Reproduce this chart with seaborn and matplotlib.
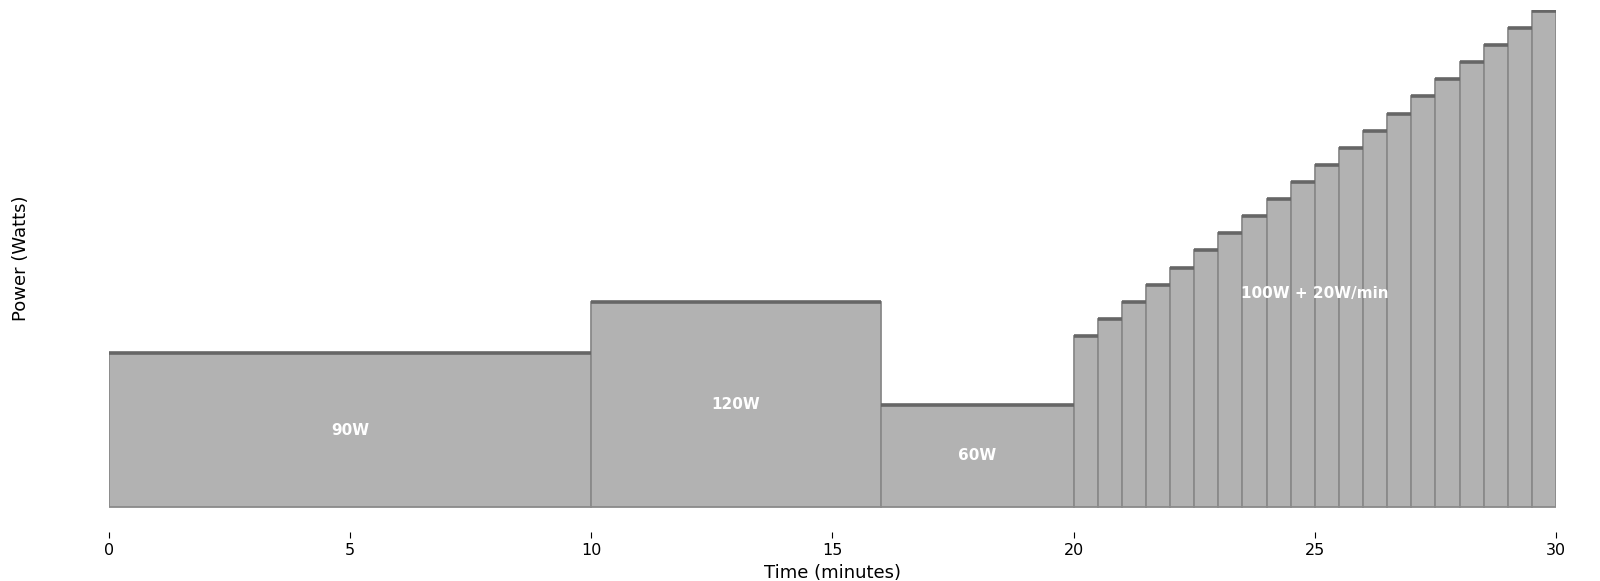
import numpy as np
import pandas as pd
import seaborn as sns
import matplotlib.pyplot as plt

# interval workout: start time (min), length (min), power (W)
start = [0, 10, 16,
         20, 20.5, 21, 21.5, 22, 22.5, 23, 23.5, 24, 24.5,
         25, 25.5, 26, 26.5, 27, 27.5, 28, 28.5, 29, 29.5]
length = [10, 6, 4] + [0.5] * 20
power = [90, 120, 60,
         100, 110, 120, 130, 140, 150, 160, 170, 180, 190,
         200, 210, 220, 230, 240, 250, 260, 270, 280, 290]

labels = ["90W", "120W", "60W", "100W + 20W/min"]
label_x = [5, 13, 18, 25]
label_y = [45, 60, 30, 125]

df = pd.DataFrame({"start": start, "length": length, "power": power})
df["end"] = df["start"] + df["length"]
df["mid"] = df["start"] + df["length"] / 2
edges = list(df["start"]) + [df["end"].iloc[-1]]

sns.set_style("white")
plt.rcParams["text.color"] = "black"
plt.rcParams["axes.labelcolor"] = "black"
plt.rcParams["xtick.color"] = "black"

fig = plt.figure(figsize=(16, 5.81), dpi=100)
ax = fig.add_axes([0.068, 0.0843, 0.9045, 0.8985])

# variable-width bars: histogram weighted by power
sns.histplot(x=df["mid"], weights=df["power"], bins=edges, stat="count",
             color="#b2b2b2", alpha=1, edgecolor="#8a8a8a", linewidth=1.3, ax=ax)

# darker top edge on each block
ax.hlines(df["power"], df["start"], df["end"], color="#666666", linewidth=2.6)

for txt, x, y in zip(labels, label_x, label_y):
    ax.text(x, y, txt, color="white", fontsize=11, fontweight="bold",
            ha="center", va="center")

ax.set_xlim(0, 30)
ax.set_ylim(-14.5, 290.5)
ax.set_xticks([0, 5, 10, 15, 20, 25, 30])
ax.set_yticks([])
ax.tick_params(axis="x", bottom=True, length=4, width=0.8, labelsize=11.5, pad=4)
sns.despine(left=True, bottom=True)

ax.set_xlabel("Time (minutes)", fontsize=13)
ax.set_ylabel("Power (Watts)", fontsize=13)
ax.yaxis.set_label_coords(-0.0545, 0.525)

fig.savefig("out.png", dpi=100)
